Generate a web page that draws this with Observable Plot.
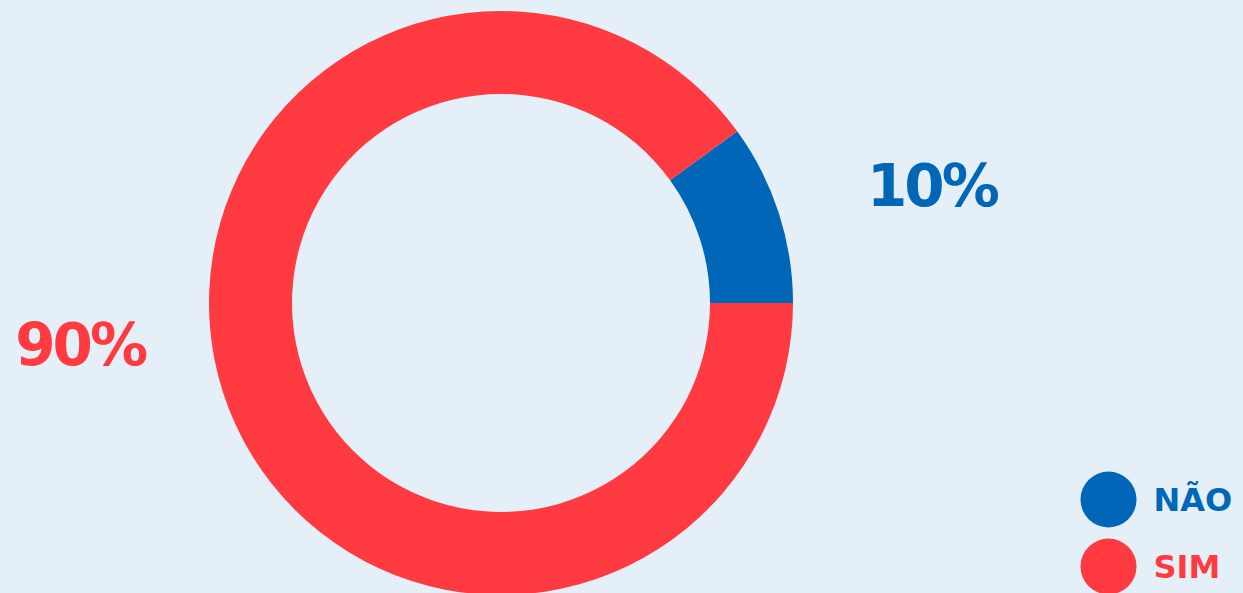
<!DOCTYPE html>
<html>
<head>
<meta charset="utf-8">
<script src="https://cdn.jsdelivr.net/npm/d3@7"></script>
<script src="https://cdn.jsdelivr.net/npm/@observablehq/plot@0.6"></script>
<style>
  html, body { margin: 0; padding: 0; background: #E4EFF8; overflow: hidden; }
  #chart svg { display: block; }
</style>
</head>
<body>
<div id="chart"></div>
<script>
// ---- data ----
const categories = ["NÃO", "SIM"];
const values = [10, 90];
const labels = ["10%", "90%"];
const colors = ["#0067B8", "#FF3A40"];

const data = categories.map((c, i) => ({category: c, value: values[i], label: labels[i]}));

const W = 1243, H = 593;
const FONT = "'DejaVu Sans', sans-serif";

// donut layout
const cx = 501, cy = 303, outerR = 292, innerR = 209;
// label placement relative to the donut (per slice side)
const labelLayout = {
  "NÃO": {dx: outerR + 74, dy: -97, anchor: "start"},
  "SIM": {dx: -(outerR + 64), dy: 62, anchor: "end"}
};

function donutMark(index, scales, values_, dimensions) {
  const g = d3.create("svg:g");
  const pie = d3.pie().sort(null).value(d => d.value)
    .startAngle(0.3 * Math.PI).endAngle(2.3 * Math.PI);
  const arc = d3.arc().innerRadius(innerR).outerRadius(outerR);
  const arcs = pie(data);
  const gg = g.append("g").attr("transform", `translate(${cx},${cy})`);
  gg.selectAll("path").data(arcs).join("path")
    .attr("d", arc)
    .attr("fill", d => scales.color(d.data.category));
  gg.selectAll("text").data(arcs).join("text")
    .attr("x", d => labelLayout[d.data.category].dx)
    .attr("y", d => labelLayout[d.data.category].dy)
    .attr("text-anchor", d => labelLayout[d.data.category].anchor)
    .attr("fill", d => scales.color(d.data.category))
    .attr("font-family", FONT)
    .attr("font-weight", "bold")
    .attr("font-size", 58)
    .attr("letter-spacing", -3)
    .text(d => d.data.label);
  return g.node();
}

const chart = Plot.plot({
  width: W,
  height: H,
  margin: 0,
  style: {background: "#E4EFF8", fontFamily: FONT, overflow: "visible"},
  x: {axis: null},
  y: {type: "point", domain: categories, range: [499, 566], padding: 0, axis: null},
  color: {domain: categories, range: colors},
  marks: [
    donutMark,
    Plot.dot(data, {y: "category", fill: "category", r: 28, frameAnchor: "right", dx: -135}),
    Plot.text(data, {y: "category", text: "category", fill: "category", frameAnchor: "right",
      dx: -90, dy: 1, textAnchor: "start", fontSize: 32, fontWeight: "bold", lineAnchor: "middle",
      letterSpacing: -1})
  ]
});
document.getElementById("chart").appendChild(chart);
</script>
</body>
</html>
